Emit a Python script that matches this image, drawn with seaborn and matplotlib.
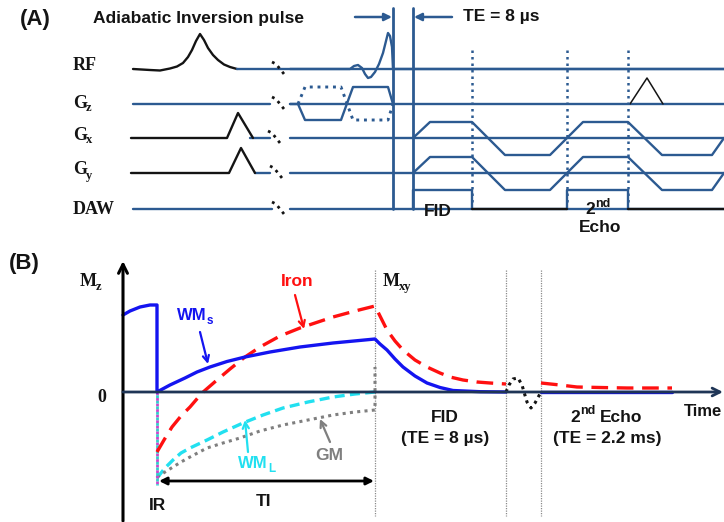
import numpy as np
import pandas as pd
import seaborn as sns
import matplotlib.pyplot as plt

sns.set_theme(style="white")
plt.rcParams['font.family'] = ['Liberation Sans', 'DejaVu Sans']

######## (A) pulse sequence: time in px, amplitude up from each row baseline
row_labels = ['RF', 'G', 'G', 'G', 'DAW']
row_subs = ['', 'z', 'x', 'y', '']
row_base = [69, 104, 138, 173, 209]

rf_inv_t = [133, 150, 160, 170, 177, 183, 188, 192, 196, 200, 204, 208, 213, 218, 224, 230, 237]
rf_inv_a = [0, -1, -1.5, 0.5, 2.5, 6, 12, 19, 28, 35, 29, 21, 14, 9, 4.5, 2, 0]
rf_exc_t = [237, 272, 290, 350, 354, 358, 362, 365, 368, 371, 375, 379, 383, 386, 388, 390, 392, 393, 724]
rf_exc_a = [0, 0, 0, 0, 3, 4, 1, -5, -9, -8, -3, 5, 16, 28, 36, 33, 22, 0, 0]

gz_t = [290, 298, 305, 341, 353, 388, 393]
gz_solid_a = [0, 0, -16, -16, 17, 17, 0]
gz_dot_t = [298, 305, 341, 353, 388, 393]
gz_dot_a = [0, 17, 17, -16, -16, 0]
gz_spoil_t = [630, 647, 663]
gz_spoil_a = [0, 26, 0]

gx_pre_t = [131, 227, 238, 253]
gx_pre_a = [0, 0, 25, 0]
gy_pre_t = [131, 229, 241, 255]
gy_pre_a = [0, 0, 25, 0]
ro_t = [413, 430, 472, 505, 550, 583, 628, 662, 712, 724]
ro_a = [0, 16, 16, -17, -17, 16, 16, -17, -17, 0]

daw_on_t = [[413, 413, 472, 472], [567, 567, 628, 628]]
daw_on_a = [[0, 19, 19, 0], [0, 19, 19, 0]]
daw_off_t = [[472, 567], [628, 724]]

break_x = [272, 272, 268, 270, 272]
echo_marks = [472, 567, 628]
te_lines = [393, 413]

######## (B) magnetisation: time in px, M in px above the zero line
wms_t = [123, 130, 140, 150, 157, 157, 170, 185, 197, 210, 227, 245, 270, 300, 333, 375,
         380, 387, 395, 403, 415, 427, 440, 453, 480, 506]
wms_m = [77, 81, 85, 87, 87, 0, 7, 14, 20, 25, 30.5, 35, 40, 45, 49, 53,
         48, 42, 33, 25, 16, 9, 4.5, 1.5, 0.3, 0]
wms_t2 = [541, 672]
wms_m2 = [0, 0]

iron_t = [157, 164, 172, 181, 190, 202, 217, 230, 245, 260, 280, 300, 315, 333, 355, 375,
          381, 387, 395, 403, 415, 427, 440, 450, 463, 477, 490, 506]
iron_m = [-60, -48, -35, -24, -15, -1, 12, 23, 35, 45, 56, 64, 69, 75, 81, 86,
          74, 62, 51, 42, 32, 25, 19, 15, 12, 10, 9, 8]
iron_t2 = [541, 560, 577, 600, 627, 672]
iron_m2 = [9, 7, 5, 4.5, 4, 4]

wml_t = [157, 165, 173, 181, 190, 207, 223, 243, 263, 283, 308, 333, 355, 375]
wml_m = [-86, -76, -68, -61, -56, -48, -40, -31, -23, -16, -10, -5, -2, 0]

gm_t = [157, 165, 173, 181, 190, 207, 223, 240, 260, 283, 308, 333, 355, 375, 375]
gm_m = [-85, -80, -75, -70, -65, -56, -51, -46, -39, -33, -28, -23, -20, -18, 25]

gap_t = [506, 509, 513, 518, 522, 524, 527, 531, 535, 541]
gap_m = [0, 7, 13, 14, 7, 0, -10, -16, -11, 0]

ir_t = 157
ir_depth = -93
phase_lines = [375, 506, 541]
zero_y = 392

blue_a = '#2c5a91'
ink = '#141414'

fig = plt.figure(figsize=(7.24, 5.22), dpi=100)
ax = fig.add_axes([0, 0, 1, 1])


def trace(t, y, **kw):
    sns.lineplot(x=np.array(t, dtype=float), y=np.array(y, dtype=float), ax=ax,
                 estimator=None, sort=False, legend=False, **kw)


def wave(t, a, base, **kw):
    trace(t, base - np.array(a, dtype=float), **kw)


def arrow(p0, p1, color, style='->', lw=1.6, ms=12):
    ax.annotate('', xy=p1, xytext=p0,
                arrowprops=dict(arrowstyle=style, color=color, lw=lw,
                                mutation_scale=ms, shrinkA=0, shrinkB=0))


######## panel A
lw_a = 1.7
for b in row_base:
    wave([290, 724], [0, 0], b, color=blue_a, lw=lw_a)
wave([133, 270], [0, 0], row_base[1], color=blue_a, lw=lw_a)
wave([250, 270], [0, 0], row_base[2], color=blue_a, lw=lw_a)
wave([255, 270], [0, 0], row_base[3], color=blue_a, lw=lw_a)
wave([133, 272], [0, 0], row_base[4], color=blue_a, lw=lw_a)

wave(rf_inv_t, rf_inv_a, row_base[0], color=ink, lw=lw_a)
wave(rf_exc_t, rf_exc_a, row_base[0], color=blue_a, lw=lw_a)
wave(gz_t, gz_solid_a, row_base[1], color=blue_a, lw=lw_a)
wave(gz_dot_t, gz_dot_a, row_base[1], color=blue_a, lw=lw_a + 0.4, linestyle=':')
wave(gz_spoil_t, gz_spoil_a, row_base[1], color=ink, lw=1.1)
wave(gx_pre_t, gx_pre_a, row_base[2], color=ink, lw=lw_a)
wave(gy_pre_t, gy_pre_a, row_base[3], color=ink, lw=lw_a)
wave(ro_t, ro_a, row_base[2], color=blue_a, lw=lw_a)
wave(ro_t, ro_a, row_base[3], color=blue_a, lw=lw_a)
for t, a in zip(daw_on_t, daw_on_a):
    wave(t, a, row_base[4], color=blue_a, lw=lw_a)
for t in daw_off_t:
    wave(t, [0, 0], row_base[4], color=ink, lw=lw_a)

for x, b in zip(break_x, row_base):
    wave([x, x + 4, x + 8, x + 12, x + 15], [7, 5, 0, -5, -8], b,
         color=ink, lw=2, linestyle=(0, (1, 1.6)))

for x in te_lines:
    trace([x, x], [8, 209], color=blue_a, lw=2)
for x in echo_marks:
    trace([x, x], [50, 205], color=blue_a, lw=1.8, linestyle=(0, (1, 1.6)))

arrow((355, 17), (392, 17), blue_a, style='-|>', lw=1.8, ms=11)
arrow((452, 17), (414, 17), blue_a, style='-|>', lw=1.8, ms=11)

ax.text(35, 20, '(A)', fontsize=16, fontweight='bold', color=ink, ha='center', va='center')
ax.text(93, 19, 'Adiabatic Inversion pulse', fontsize=12.5, fontweight='bold',
        color=ink, ha='left', va='center')
ax.text(463, 16, 'TE = 8 µs', fontsize=12.5, fontweight='bold', color=ink,
        ha='left', va='center')

label_y = [66, 103, 135, 170, 210]
sub_dy = [0, 5, 5, 6, 0]
for lab, sub, y, dy in zip(row_labels, row_subs, label_y, sub_dy):
    ax.text(73, y, lab, fontsize=13, fontweight='bold', family=['Liberation Serif'],
            color=ink, ha='left', va='center')
    if sub:
        ax.text(86, y + dy, sub, fontsize=9, fontweight='bold', family=['Liberation Serif'],
                color=ink, ha='left', va='center')

ax.text(438, 211, 'FID', fontsize=12.5, fontweight='bold', color=ink, ha='center', va='center')
ax.text(595, 210, '2', fontsize=12.5, fontweight='bold', color=ink, ha='right', va='center')
ax.text(595, 204, 'nd', fontsize=9, fontweight='bold', color=ink, ha='left', va='center')
ax.text(600, 227, 'Echo', fontsize=12.5, fontweight='bold', color=ink, ha='center', va='center')

######## panel B
for x in phase_lines:
    trace([x, x], [270, 516], color='#8a8a8a', lw=0.9, linestyle=(0, (1, 1)))

arrow((123, 521), (123, 261), 'black', lw=2.2, ms=16)
arrow((123, zero_y), (723, zero_y), '#1f3556', lw=2.0, ms=14)

trace(wml_t, zero_y - np.array(wml_m), color='#22e0f0', lw=2.4, linestyle=(0, (3, 1.6)))
trace(gm_t, zero_y - np.array(gm_m), color='#7f7f7f', lw=2.2, linestyle=(0, (1, 1.4)))
trace([ir_t, ir_t], [zero_y, zero_y - ir_depth], color='#cc44cc', lw=2.0, linestyle=(0, (1, 1)))
trace([ir_t, ir_t], [zero_y, zero_y - ir_depth], color='#33cccc', lw=2.0, linestyle=(1, (1, 1)))
trace(iron_t, zero_y - np.array(iron_m), color='#ff1010', lw=2.4, linestyle=(0, (5, 2.6)))
trace(iron_t2, zero_y - np.array(iron_m2), color='#ff1010', lw=2.4, linestyle=(0, (5, 2.6)))
trace(wms_t, zero_y - np.array(wms_m), color='#1414f0', lw=2.4)
trace(wms_t2, zero_y - np.array(wms_m2), color='#1414f0', lw=2.4)
trace(gap_t, zero_y - np.array(gap_m), color=ink, lw=2.2, linestyle=(0, (1, 1.4)))

arrow((159, 481), (374, 481), 'black', style='<|-|>', lw=2.0, ms=11)

arrow((200, 332), (208, 364), '#1414f0', lw=1.6, ms=11)
arrow((295, 295), (304, 329), '#ff1010', lw=1.6, ms=11)
arrow((248, 452), (245, 420), '#22e0f0', lw=1.6, ms=11)
arrow((330, 442), (320, 419), '#7f7f7f', lw=1.6, ms=11)

ax.text(24, 263, '(B)', fontsize=16, fontweight='bold', color=ink, ha='center', va='center')
serif = ['Liberation Serif']
ax.text(80, 282, 'M', fontsize=13, fontweight='bold', family=serif, color=ink, ha='left', va='center')
ax.text(96, 287, 'z', fontsize=9, fontweight='bold', family=serif, color=ink, ha='left', va='center')
ax.text(102, 397, '0', fontsize=13, fontweight='bold', family=serif, color=ink, ha='center', va='center')
ax.text(383, 281, 'M', fontsize=13, fontweight='bold', family=serif, color=ink, ha='left', va='center')
ax.text(399, 287, 'xy', fontsize=9, fontweight='bold', family=serif, color=ink, ha='left', va='center')

ax.text(177, 316, 'WM', fontsize=12, fontweight='bold', color='#1414f0', ha='left', va='center')
ax.text(207, 321, 's', fontsize=8.5, fontweight='bold', color='#1414f0', ha='left', va='center')
ax.text(297, 282, 'Iron', fontsize=12.5, fontweight='bold', color='#ff1010', ha='center', va='center')
ax.text(238, 464, 'WM', fontsize=12, fontweight='bold', color='#22e0f0', ha='left', va='center')
ax.text(268, 469, 'L', fontsize=8.5, fontweight='bold', color='#22e0f0', ha='left', va='center')
ax.text(329, 455, 'GM', fontsize=12.5, fontweight='bold', color='#7f7f7f', ha='center', va='center')

ax.text(158, 506, 'IR', fontsize=12.5, fontweight='bold', color=ink, ha='center', va='center')
ax.text(264, 501, 'TI', fontsize=12.5, fontweight='bold', color=ink, ha='center', va='center')
ax.text(703, 411, 'Time', fontsize=12, fontweight='bold', color=ink, ha='center', va='center')
ax.text(445, 417, 'FID', fontsize=12.5, fontweight='bold', color=ink, ha='center', va='center')
ax.text(445, 439, '(TE = 8 µs)', fontsize=12.5, fontweight='bold', color=ink, ha='center', va='center')
ax.text(580, 417, '2', fontsize=12.5, fontweight='bold', color=ink, ha='right', va='center')
ax.text(580, 411, 'nd', fontsize=9, fontweight='bold', color=ink, ha='left', va='center')
ax.text(600, 417, 'Echo', fontsize=12.5, fontweight='bold', color=ink, ha='left', va='center')
ax.text(607, 439, '(TE = 2.2 ms)', fontsize=12.5, fontweight='bold', color=ink, ha='center', va='center')

ax.set_xlim(0, 724)
ax.set_ylim(522, 0)
ax.axis('off')
fig.savefig('out.png', dpi=100)
